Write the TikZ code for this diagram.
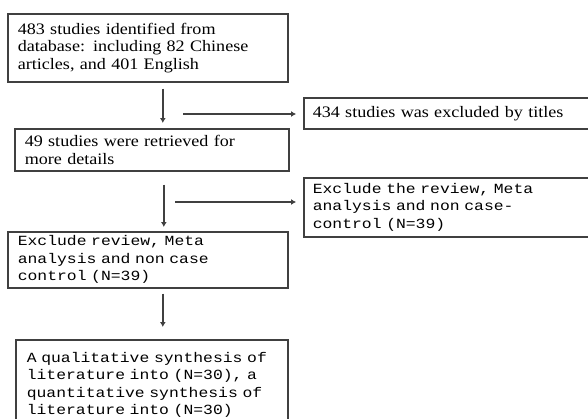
\documentclass[tikz,border=0pt]{standalone}
\usepackage{fontspec}
\setmainfont[FakeStretch=1.13]{Liberation Serif}
\setmonofont[FakeStretch=1.17]{Liberation Mono}
\usetikzlibrary{arrows.meta,positioning}
\definecolor{edgegray}{RGB}{64,64,64}
\newcommand{\serifbox}{\fontsize{16}{17.5}\selectfont}
\newcommand{\monobox}{\ttfamily\fontsize{14}{17.5}\selectfont}

\begin{document}
\begin{tikzpicture}[x=1pt,y=-1pt]
		\useasboundingbox (0,0) rectangle (588,418);
		\clip (0,0) rectangle (588,418);

		\begin{scope}[every node/.style={draw=edgegray,line width=1.6pt,anchor=north west,
				align=left,inner xsep=10pt,inner ysep=0pt,text=black}]
			\node[minimum width=280pt,minimum height=68pt,text width=260pt,font=\serifbox] (a) at (7,13)
				{483 studies identified from\\database: including 82 Chinese\\articles, and 401 English};
			\node[minimum width=295pt,minimum height=31pt,text width=277pt,inner xsep=9pt,font=\serifbox] (b) at (303,97)
				{434 studies was excluded by titles};
			\node[minimum width=274pt,minimum height=42pt,text width=254pt,font=\serifbox] (c) at (14,128)
				{49 studies were retrieved for\\more details};
			\node[minimum width=295pt,minimum height=59pt,text width=277pt,inner xsep=9pt,font=\monobox] (d) at (303,177)
				{Exclude the review, Meta\\analysis and non case-\\control (N=39)};
			\node[minimum width=280pt,minimum height=56pt,text width=260pt,font=\monobox] (e) at (7,231)
				{Exclude review, Meta\\analysis and non case\\control (N=39)};
			\node[minimum width=272pt,minimum height=90pt,text width=250pt,inner xsep=11pt,font=\monobox] (f) at (15,339)
				{A qualitative synthesis of\\literature into (N=30), a\\quantitative synthesis of\\literature into (N=30)};
		\end{scope}

		\coordinate (s1) at (183,114);
		\coordinate (s2) at (175,202);

		\begin{scope}[>={Latex[length=5pt,width=6pt]},line width=1.5pt,draw=edgegray]
			\draw[->] ([xshift=15pt,yshift=-6pt]a.south) -- ([xshift=11pt,yshift=5pt]c.north);
			\draw[->] (s1) -- ([xshift=-7pt]s1 -| b.west);
			\draw[->] ([xshift=12pt,yshift=-13pt]c.south) -- ([xshift=16pt,yshift=4pt]e.north);
			\draw[->] (s2) -- ([xshift=-7pt]s2 -| d.west);
			\draw[->] ([xshift=15pt,yshift=-5pt]e.south) -- ([xshift=11pt,yshift=12pt]f.north);
		\end{scope}
	\end{tikzpicture}
\end{document}
